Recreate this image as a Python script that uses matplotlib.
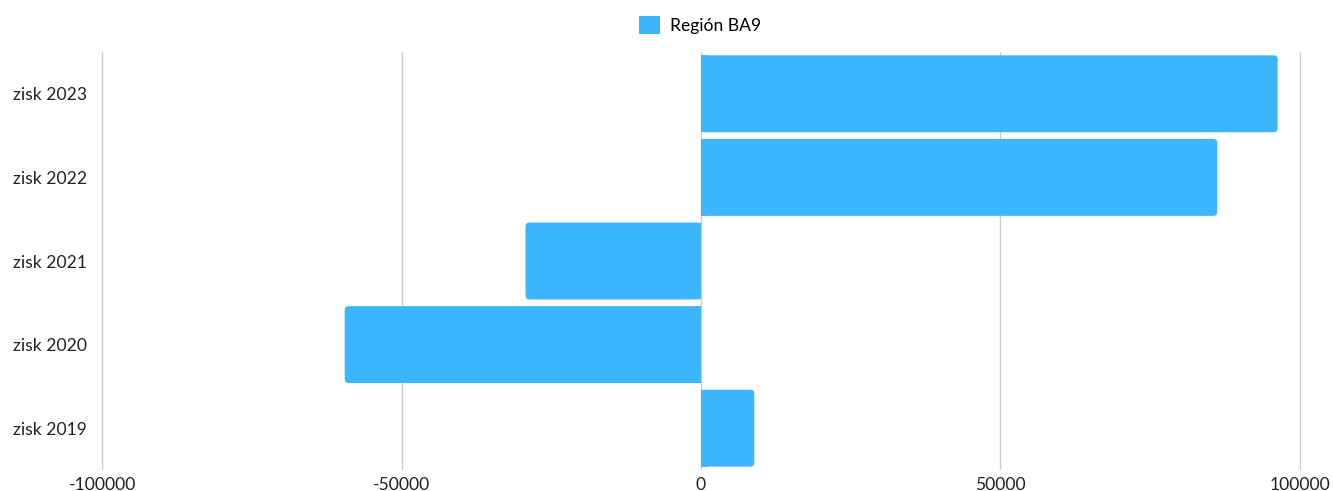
import matplotlib.pyplot as plt
from matplotlib.patches import Patch, FancyBboxPatch

categories = ["zisk 2023", "zisk 2022", "zisk 2021", "zisk 2020", "zisk 2019"]
values = [96300, 86200, -29300, -59500, 8900]
series_name = "Región BA9"
xticks = [-100000, -50000, 0, 50000, 100000]

color = "#3BB6FF"
plt.rcParams['font.family'] = ['Lato', 'DejaVu Sans']
FS = 12.6

fig = plt.figure(figsize=(13.33, 4.91), dpi=100)
ax = fig.add_axes([101/1333, 1 - 470/491, 1200/1333, 418/491])

xmin, xmax = -100000 - 200, 100000 + 200
ypos = list(range(len(categories)))
ax.set_ylim(len(categories) - 0.5, -0.5)
ax.set_xlim(xmin, xmax)

h = 0.92
xu = (xmax - xmin) / 1200.0
yu = len(categories) / 418.0
r = 4 * xu
for y, v in zip(ypos, values):
    p = FancyBboxPatch((min(0, v), y - h / 2), abs(v), h,
                       boxstyle=f"round,pad=0,rounding_size={r}",
                       mutation_aspect=yu / xu, facecolor=color,
                       edgecolor="none", linewidth=0, zorder=3)
    ax.add_patch(p)
    # square corners on the zero side
    w = 6 * xu * (1 if v > 0 else -1)
    ax.barh(y, w, height=h, color=color, linewidth=0, zorder=3)

ax.set_xticks(xticks)
ax.set_xticklabels([str(t) for t in xticks], fontsize=FS, color="#222222")
ax.set_yticks(ypos)
ax.set_yticklabels(categories, fontsize=FS, color="#222222")
ax.tick_params(length=0)
ax.tick_params(axis='y', pad=10)
ax.tick_params(axis='x', pad=5)
ax.grid(axis='x', color="#cccccc", linewidth=1, zorder=0)
ax.grid(axis='y', visible=False)
for s in ax.spines.values():
    s.set_visible(False)

fig.legend(handles=[Patch(facecolor=color, label=series_name)], loc='upper center',
           bbox_to_anchor=(0.525, 1.0), frameon=False, fontsize=FS,
           handlelength=1.2, handleheight=1.2, handletextpad=0.6)

fig.savefig("out.png", dpi=100, facecolor="white")
